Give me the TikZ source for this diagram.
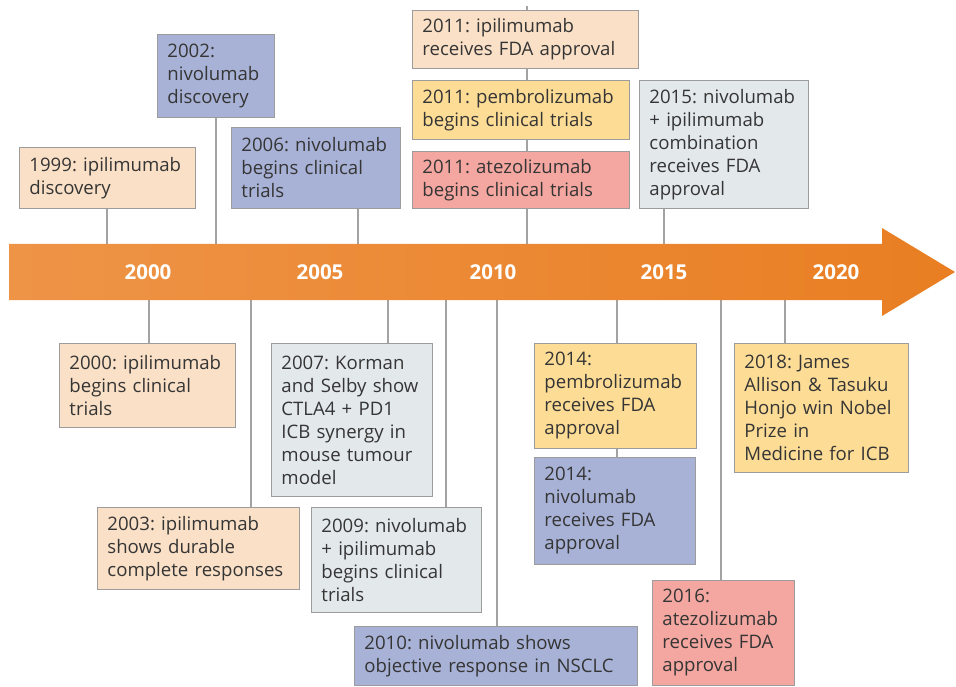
\documentclass[tikz,border=0pt]{standalone}
\usepackage{fontspec}
\setmainfont{Open Sans}
\usetikzlibrary{backgrounds}
\frenchspacing
\definecolor{peach}{HTML}{FAE0C6}
\definecolor{lav}{HTML}{A8B2D6}
\definecolor{yel}{HTML}{FDDC96}
\definecolor{pinkr}{HTML}{F4A7A0}
\definecolor{greyb}{HTML}{E3E8EB}
\definecolor{orL}{HTML}{EE9447}
\definecolor{orR}{HTML}{E97E22}
\definecolor{boxline}{HTML}{9C9C9C}
\definecolor{connline}{HTML}{A3A3A3}
\definecolor{txt}{HTML}{353535}
\tikzset{
 box/.style={draw=boxline, line width=0.9pt, anchor=north west, inner xsep=10pt, inner ysep=0pt, align=left, text=txt, font=\fontsize{18.6}{23}\selectfont},
 conn/.style={draw=connline, line width=1.4pt},
 yr/.style={text=white, font=\fontsize{20.5}{23}\selectfont\bfseries}
}
\newcommand\tlbox[7]{%
 \pgfmathsetmacro\tlw{#4-20}%
 \node[box, fill=#6, minimum width=#4pt, minimum height=#5pt, text width=\tlw pt] (#1) at (#2,#3) {#7};}
\begin{document}
\begin{tikzpicture}[x=1pt,y=-1pt]
\useasboundingbox (0,0) rectangle (956,687);
% timeline arrow
\shade[left color=orL, right color=orR] (9,244) -- (882,244) -- (882,228) -- (955,272) -- (882,316) -- (882,300) -- (9,300) -- cycle;
\node[yr] (y2000) at (148,272) {2000};
\node[yr] (y2005) at (320,272) {2005};
\node[yr] (y2010) at (493,272) {2010};
\node[yr] (y2015) at (664,272) {2015};
\node[yr] (y2020) at (836,272) {2020};
% top boxes
\tlbox{b1999}{19}{147}{176}{61}{peach}{1999: ipilimumab\\discovery}
\tlbox{b2002}{157}{34}{117}{83}{lav}{2002:\\nivolumab\\discovery}
\tlbox{b2006}{231}{127}{169}{81}{lav}{2006: nivolumab\\begins clinical\\trials}
\tlbox{b2011i}{412}{10}{226}{58}{peach}{2011: ipilimumab\\receives FDA approval}
\tlbox{b2011p}{412}{80}{217}{59}{yel}{2011: pembrolizumab\\begins clinical trials}
\tlbox{b2011a}{412}{151}{217}{57}{pinkr}{2011: atezolizumab\\begins clinical trials}
\tlbox{b2015}{639}{80}{169}{128}{greyb}{2015: nivolumab\\+ ipilimumab\\combination\\receives FDA\\approval}
% bottom boxes
\tlbox{b2000}{59}{343}{176}{84}{peach}{2000: ipilimumab\\begins clinical\\trials}
\tlbox{b2003}{97}{507}{202}{82}{peach}{2003: ipilimumab\\shows durable\\complete responses}
\tlbox{b2007}{271}{343}{161}{153}{greyb}{2007: Korman\\and Selby show\\CTLA4 + PD1\\ICB synergy in\\mouse tumour\\model}
\tlbox{b2009}{311}{507}{170}{105}{greyb}{2009: nivolumab\\+ ipilimumab\\begins clinical\\trials}
\tlbox{b2010}{354}{626}{283}{59}{lav}{2010: nivolumab shows\\objective response in NSCLC}
\tlbox{b2014p}{534}{343}{162}{105}{yel}{2014:\\pembrolizumab\\receives FDA\\approval}
\tlbox{b2014n}{534}{457}{161}{107}{lav}{2014:\\nivolumab\\receives FDA\\approval}
\tlbox{b2016}{652}{580}{142}{105}{pinkr}{2016:\\atezolizumab\\receives FDA\\approval}
\tlbox{b2018}{734}{343}{174}{129}{yel}{2018: James\\Allison \& Tasuku\\Honjo win Nobel\\Prize in\\Medicine for ICB}
% anchor points on the bar
\coordinate (u1999) at (107,244);
\coordinate (u2002) at (216,244);
\coordinate (u2006) at (358,244);
\coordinate (u2011) at (527,244);
\coordinate (top2011) at (527,6);
\coordinate (u2015) at (664,244);
\coordinate (d2000) at (149,300);
\coordinate (d2003) at (251,300);
\coordinate (d2007) at (388,300);
\coordinate (d2009) at (446,300);
\coordinate (d2010) at (497,300);
\coordinate (d2014) at (617,300);
\coordinate (d2016) at (721,300);
\coordinate (d2018) at (785,300);
\begin{pgfonlayer}{background}
\draw[conn] (u1999) -- (u1999 |- b1999.south);
\draw[conn] (u2002) -- (u2002 |- b2002.south);
\draw[conn] (u2006) -- (u2006 |- b2006.south);
\draw[conn] (u2011) -- (top2011);
\draw[conn] (u2015) -- (u2015 |- b2015.south);
\draw[conn] (d2000) -- (d2000 |- b2000.north);
\draw[conn] (d2003) -- (d2003 |- b2003.north);
\draw[conn] (d2007) -- (d2007 |- b2007.north);
\draw[conn] (d2009) -- (d2009 |- b2009.north);
\draw[conn] (d2010) -- (d2010 |- b2010.north);
\draw[conn] (d2014) -- (d2014 |- b2014n.north);
\draw[conn] (d2016) -- (d2016 |- b2016.north);
\draw[conn] (d2018) -- (d2018 |- b2018.north);
\end{pgfonlayer}
\end{tikzpicture}
\end{document}
